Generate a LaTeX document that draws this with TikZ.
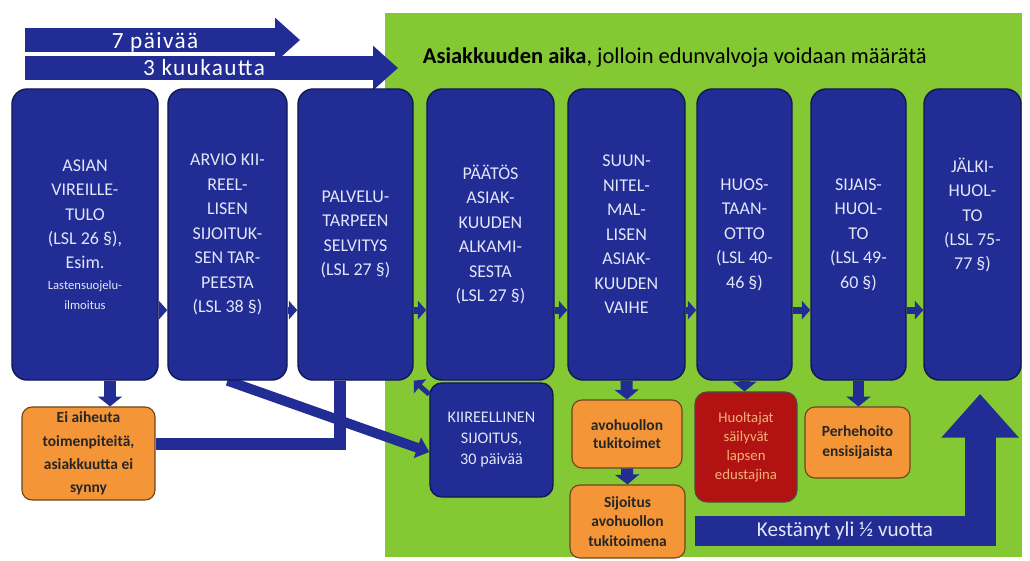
\documentclass[tikz,border=0pt]{standalone}
\usepackage{fontspec}
\setmainfont{Carlito}
\usetikzlibrary{arrows.meta,backgrounds,calc}

\definecolor{navy}{RGB}{33,44,148}
\definecolor{navyline}{RGB}{18,24,84}
\definecolor{leafgreen}{RGB}{132,200,52}
\definecolor{boxorange}{RGB}{244,150,56}
\definecolor{orangeline}{RGB}{110,70,30}
\definecolor{boxred}{RGB}{178,18,18}
\definecolor{paletext}{RGB}{226,230,248}
\definecolor{peach}{RGB}{242,178,120}

\begin{document}
\begin{tikzpicture}[x=0.025cm, y=-0.025cm,
    stage box/.style={draw=navyline, line width=1pt, fill=navy, rounded corners=0.38cm,
        text=paletext, align=center, inner sep=2pt,
        minimum height=7.275cm, font=\fontsize{12.8}{17.4}\selectfont},
    note box/.style={draw=orangeline, line width=0.8pt, fill=boxorange, rounded corners=0.25cm,
        text=black!85, align=center, inner sep=2pt},
    rush box/.style={draw=navyline, line width=1pt, fill=navy, rounded corners=0.3cm,
        text=paletext, align=center, font=\fontsize{11.5}{15}\selectfont},
    guard box/.style={draw=black!70, line width=0.8pt, fill=boxred, rounded corners=0.3cm,
        text=peach, align=center, font=\fontsize{10.5}{13.5}\selectfont},
    span arrow/.style={draw=navy, line width=17pt, -{Triangle[width=30.5pt,length=17.7pt]}},
    span text/.style={text=white, anchor=base, inner sep=0pt,
        font=\fontsize{16.5}{18}\selectfont\addfontfeature{LetterSpace=6}},
    step arrow/.style={draw=navy, line width=5pt, -{Triangle[width=13pt,length=6pt]}},
    drop arrow/.style={draw=navy, line width=8.5pt, -{Triangle[width=17pt,length=7pt]}},
    link arrow/.style={draw=navy, line width=7pt, -{Triangle[width=15pt,length=9pt]}},
    join line/.style={draw=navy, line width=9pt},
    time arrow/.style={draw=navy, line width=22pt, line join=miter, -{Triangle[width=53pt,length=31pt]}},
    time text/.style={text=paletext, font=\fontsize{15}{17}\selectfont}
]

%================CANVAS================
\useasboundingbox (0,0) rectangle (1030,560);
%======================================

% --- top: the title ---
\node[anchor=west, font=\fontsize{16}{18}\selectfont] (ttl) at (418,58)
    {\textbf{Asiakkuuden aika}, jolloin edunvalvoja voidaan määrätä};

% --- the eight stages ---
\node[stage box, minimum width=3.65cm] (b1) at (85,234.5)
    {ASIAN\\VIREILLE-\\TULO\\(LSL 26 §),\\Esim.\\[-3pt]{\fontsize{9}{13}\selectfont Lastensuojelu-}\\[-3pt]{\fontsize{9}{13}\selectfont ilmoitus}};
\node[stage box, minimum width=2.975cm] (b2) at (227.5,234.5)
    {ARVIO KII-\\REEL-\\LISEN\\SIJOITUK-\\SEN TAR-\\PEESTA\\(LSL 38 §)};
\node[stage box, minimum width=2.875cm] (b3) at (355.5,234.5)
    {PALVELU-\\TARPEEN\\SELVITYS\\(LSL 27 §)};
\node[stage box, minimum width=3.175cm] (b4) at (490.5,234.5)
    {PÄÄTÖS\\ASIAK-\\KUUDEN\\ALKAMI-\\SESTA\\(LSL 27 §)};
\node[stage box, minimum width=2.925cm] (b5) at (626.5,234.5)
    {SUUN-\\NITEL-\\MAL-\\LISEN\\ASIAK-\\KUUDEN\\VAIHE};
\node[stage box, minimum width=2.375cm] (b6) at (744.5,234.5)
    {HUOS-\\TAAN-\\OTTO\\(LSL 40-\\46 §)};
\node[stage box, minimum width=2.375cm] (b7) at (858.5,234.5)
    {SIJAIS-\\HUOL-\\TO\\(LSL 49-\\60 §)};
\node[stage box, minimum width=2.425cm] (b8) at (972.5,234.5)
    {JÄLKI-\\HUOL-\\TO\\(LSL 75-\\77 §)\\[12pt]};

% --- the boxes below ---
\node[note box, minimum width=3.325cm, minimum height=2.325cm,
      font=\bfseries\fontsize{11}{16.5}\selectfont] (o1) at (88.5,453.5)
    {Ei aiheuta\\toimenpiteitä,\\asiakkuutta ei\\synny};
\node[rush box, minimum width=3.075cm, minimum height=2.85cm] (k) at (491.5,440)
    {KIIREELLINEN\\SIJOITUS,\\30 päivää};
\node[note box, minimum width=2.75cm, minimum height=1.7cm,
      font=\bfseries\fontsize{11}{13}\selectfont] (o2) at (627,434)
    {avohuollon\\tukitoimet};
\node[note box, minimum width=2.875cm, minimum height=1.825cm,
      font=\bfseries\fontsize{11}{14}\selectfont] (o3) at (627.5,521.5)
    {Sijoitus\\avohuollon\\tukitoimena};
\node[guard box, minimum width=2.55cm, minimum height=2.75cm] (r1) at (746,447)
    {Huoltajat\\säilyvät\\lapsen\\edustajina};
\node[note box, minimum width=2.625cm, minimum height=1.775cm,
      font=\bfseries\fontsize{11}{14}\selectfont] (o4) at (857.5,442.5)
    {Perhehoito\\ensisijaista};

% --- timeline arrows ---
\coordinate (s3a) at (25,68);
\coordinate (s3b) at (398,68);
\coordinate (s7a) at (25,40);
\coordinate (s7b) at (300,40);
\coordinate (kst) at (695,531);
\coordinate (d1) at ([xshift=0.625cm]b1.south);

\begin{scope}[on background layer]
    \fill[white] (0,0) rectangle (1030,560);
    \fill[leafgreen] (385,13) rectangle (1022,557);
    \draw[span arrow] (s3a) -- (s3b);
    \draw[span arrow] (s7a) -- (s7b);
    \draw[join line] ([xshift=-0.39cm]b3.south) |- ([yshift=0.24cm]o1.east);
    \draw[link arrow] (b2.south) -- ([yshift=-0.3cm]k.west);
    \draw[time arrow, shorten >=0.33cm] (kst) -| ([xshift=0.19cm]b8.south);
\end{scope}

\node[span text] (t7) at (155,48) {7 päivää};
\node[span text] (t3) at (204,75) {3 kuukautta};
\node[time text] (kt) at (845,531) {Kestänyt yli ½ vuotta};

% --- arrows between stages ---
\foreach \a/\b in {b1/b2,b2/b3,b3/b4,b4/b5,b5/b6,b6/b7,b7/b8}
    \draw[step arrow] ([yshift=-1.89cm]\a.east) -- ([yshift=-1.89cm]\b.west);

% --- arrows down ---
\draw[drop arrow] (d1) -- (d1 |- o1.north);
\draw[drop arrow] (b5.south) -- (o2.north);
\draw[drop arrow] (o2.south) -- (o3.north);
\draw[drop arrow] (b6.south) -- (b6.south |- r1.north);
\draw[drop arrow] (b7.south) -- (b7.south |- o4.north);
\draw[step arrow, line width=3.5pt] ([yshift=-0.3cm]k.north west) -- (b3.south east);

\end{tikzpicture}
\end{document}
